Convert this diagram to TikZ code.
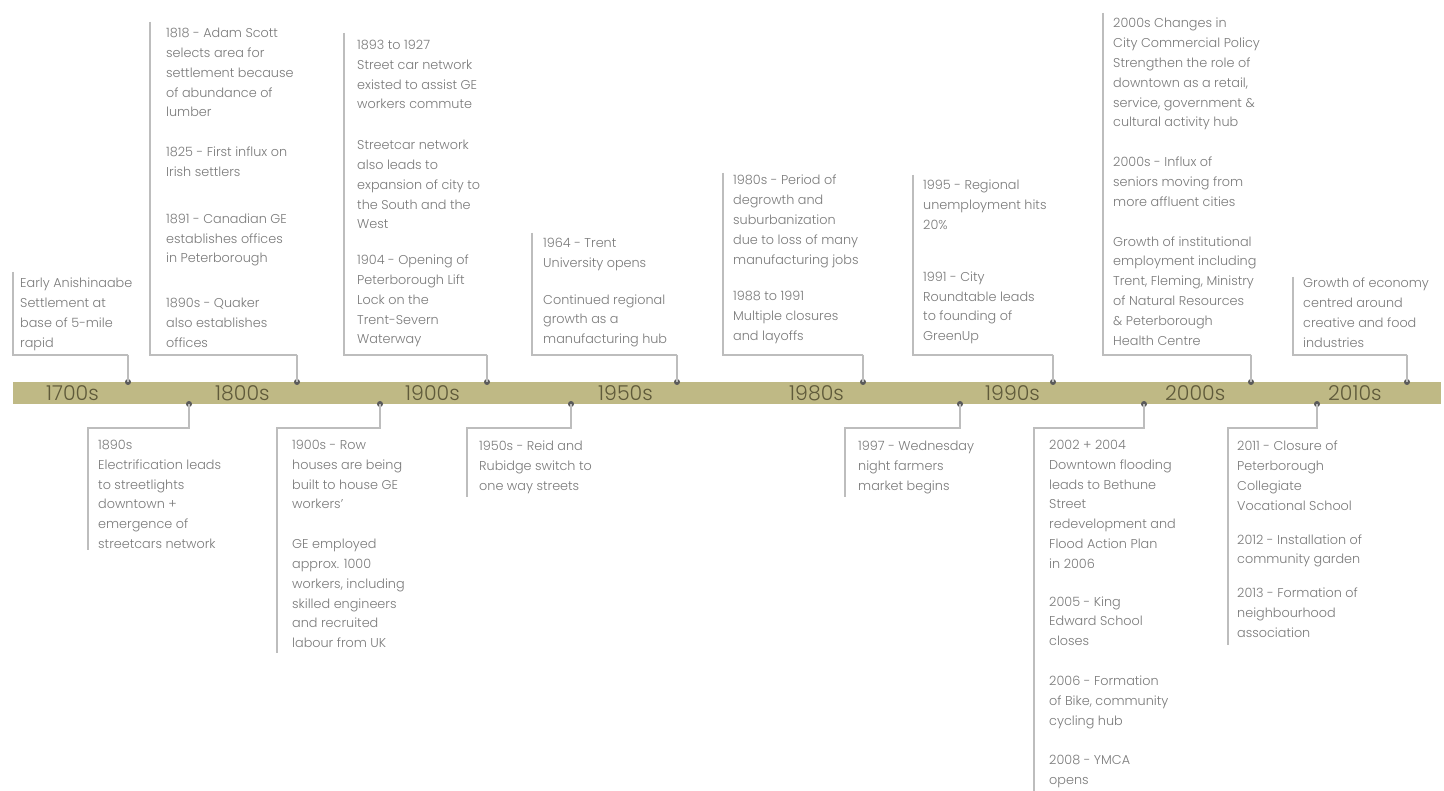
\documentclass[tikz,border=0pt]{standalone}
\usepackage{fontspec}
\setmainfont{Poppins Light}
\definecolor{barcol}{HTML}{BFB985}
\definecolor{decol}{HTML}{5F5A3A}
\definecolor{txtgray}{HTML}{7A7A7A}
\definecolor{linegray}{HTML}{BDBDBD}
\definecolor{dotgray}{HTML}{5A5A5A}
\begin{document}
\begin{tikzpicture}[x=1pt,y=-1pt,
  ev/.style={anchor=north west, inner sep=0pt, align=left, text=txtgray, font=\fontsize{12.8}{19.8}\selectfont},
  conn/.style={draw=linegray, line width=1.1pt},
  dot/.style={circle, fill=dotgray, inner sep=0pt, minimum size=6pt},
  dec/.style={anchor=west, inner sep=0pt, text=decol, font=\fontsize{20.5}{20.5}\selectfont}]
\useasboundingbox (0,0) rectangle (1444,791);
\fill[white] (0,0) rectangle (1444,791);
% bar
\fill[barcol] (13,382) rectangle (1441,404);
\node[dec] (d1700) at (46,393) {1700s};
\node[dec] (d1800) at (215,393) {1800s};
\node[dec] (d1900) at (405,393) {1900s};
\node[dec] (d1950) at (598,393) {1950s};
\node[dec] (d1980) at (789,393) {1980s};
\node[dec] (d1990) at (985,393) {1990s};
\node[dec] (d2000) at (1165,393) {2000s};
\node[dec] (d2010) at (1328,393) {2010s};

% ---------- top events ----------
\coordinate (a1) at (13,272);
\coordinate (a2) at (150,22);
\coordinate (a3) at (344,33);
\coordinate (a4) at (532,233);
\coordinate (a5) at (723,173);
\coordinate (a6) at (913,175);
\coordinate (a7) at (1103,13);
\coordinate (a8) at (1293,277);

\draw[conn] (a1) |- (128,355) coordinate (k1);
\draw[conn] (a2) |- (297,355) coordinate (k2);
\draw[conn] (a3) |- (487,355) coordinate (k3);
\draw[conn] (a4) |- (677,355) coordinate (k4);
\draw[conn] (a5) |- (863,355) coordinate (k5);
\draw[conn] (a6) |- (1053,355) coordinate (k6);
\draw[conn] (a7) |- (1251,355) coordinate (k7);
\draw[conn] (a8) |- (1407,355) coordinate (k8);

\node[dot] (p1) at (128,382) {};
\node[dot] (p2) at (297,382) {};
\node[dot] (p3) at (487,382) {};
\node[dot] (p4) at (677,382) {};
\node[dot] (p5) at (863,382) {};
\node[dot] (p6) at (1053,382) {};
\node[dot] (p7) at (1251,382) {};
\node[dot] (p8) at (1407,382) {};
\foreach \i in {1,...,8} {\draw[conn] (k\i) -- (p\i.center);}

\node[ev] (t1) at (20,278) {Early Anishinaabe\\Settlement at\\base of 5-mile\\rapid};
\node[ev] (t2) at (166,28) {1818 - Adam Scott\\selects area for\\settlement because\\of abundance of\\lumber\\[20pt]1825 - First influx on\\Irish settlers\\[27pt]1891 - Canadian GE\\establishes offices\\in Peterborough\\[25pt]1890s - Quaker\\also establishes\\offices};
\node[ev] (t3) at (357,40) {1893 to 1927\\Street car network\\existed to assist GE\\workers commute\\[21pt]Streetcar network\\also leads to\\expansion of city to\\the South and the\\West\\[16pt]1904 - Opening of\\Peterborough Lift\\Lock on the\\Trent-Severn\\Waterway};
\node[ev] (t4) at (543,238) {1964 - Trent\\University opens\\[17pt]Continued regional\\growth as a\\manufacturing hub};
\node[ev] (t5) at (733,175) {1980s - Period of\\degrowth and\\suburbanization\\due to loss of many\\manufacturing jobs\\[17pt]1988 to 1991\\Multiple closures\\and layoffs};
\node[ev] (t6) at (923,180) {1995 - Regional\\unemployment hits\\20\%\\[32pt]1991 - City\\Roundtable leads\\to founding of\\GreenUp};
\node[ev] (t7) at (1113,18) {2000s Changes in\\City Commercial Policy\\Strengthen the role of\\downtown as a retail,\\service, government \&\\cultural activity hub\\[20pt]2000s - Influx of\\seniors moving from\\more affluent cities\\[20pt]Growth of institutional\\employment including\\Trent, Fleming, Ministry\\of Natural Resources\\\& Peterborough\\Health Centre};
\node[ev] (t8) at (1303,278) {Growth of economy\\centred around\\creative and food\\industries};

% ---------- bottom events ----------
\node[dot] (q1) at (189,404) {};
\node[dot] (q2) at (380,404) {};
\node[dot] (q3) at (571,404) {};
\node[dot] (q4) at (960,404) {};
\node[dot] (q5) at (1144,404) {};
\node[dot] (q6) at (1317,404) {};

\coordinate (b1) at (88,550);
\coordinate (b2) at (277,653);
\coordinate (b3) at (467,497);
\coordinate (b4) at (845,497);
\coordinate (b5) at (1034,791);
\coordinate (b6) at (1228,645);

\foreach \i in {1,...,6} {\draw[conn] (q\i.center) |- (b\i |- 0,428) -- (b\i);}

\node[ev] (u1) at (98,440) {1890s\\Electrification leads\\to streetlights\\downtown +\\emergence of\\streetcars network};
\node[ev] (u2) at (292,440) {1900s - Row\\houses are being\\built to house GE\\workers'\\[20pt]GE employed\\approx. 1000\\workers, including\\skilled engineers\\and recruited\\labour from UK};
\node[ev] (u3) at (479,441) {1950s - Reid and\\Rubidge switch to\\one way streets};
\node[ev] (u4) at (858,441) {1997 - Wednesday\\night farmers\\market begins};
\node[ev] (u5) at (1049,440) {2002 + 2004\\Downtown flooding\\leads to Bethune\\Street\\redevelopment and\\Flood Action Plan\\in 2006\\[18pt]2005 - King\\Edward School\\closes\\[20pt]2006 - Formation\\of Bike, community\\cycling hub\\[20pt]2008 - YMCA\\opens};
\node[ev] (u6) at (1237,441) {2011 - Closure of\\Peterborough\\Collegiate\\Vocational School\\[14pt]2012 - Installation of\\community garden\\[14pt]2013 - Formation of\\neighbourhood\\association};
\end{tikzpicture}
\end{document}
